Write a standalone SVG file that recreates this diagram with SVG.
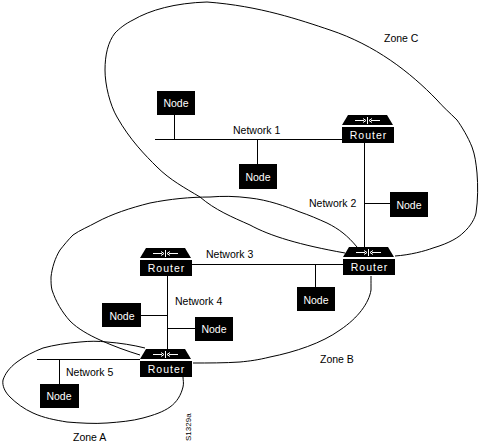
<svg xmlns="http://www.w3.org/2000/svg" width="484" height="444" viewBox="0 0 484 444">
<style>
text{font-family:"Liberation Sans",Arial,sans-serif;font-size:10.5px;fill:#000}
.w{fill:#fff}
.n{text-anchor:middle;font-size:10.5px}
.r{text-anchor:middle;font-size:10.5px;letter-spacing:1px}
.b{fill:#000}
.l{fill:none;stroke:#000;stroke-width:1}
.a{fill:none;stroke:#fff;stroke-width:1}
</style>
<defs>
<g id="rt">
<path class="b" d="M6 0H45L51 10H0Z"/>
<rect class="b" x="0" y="12" width="52" height="16"/>
<path class="a" d="M13 5.500H22M21 3.500L24 5.500L21 7.500M38 5.500H29M30 3.500L27 5.500L30 7.500M25.500 2V9"/>
<text class="w r" x="26.500" y="24">Router</text>
</g>
</defs>
<g id="zones">
<path class="l" d="M395 256C410 255 425 251 433 248C450 243 459 237 463 233C471 226 475 218 476 213C478 200 478 185 477 173C476 163 475 155 472 147C468 137 462 127 457 120C450 113 442 106 437 100C410 72 375 45 330 30C300 20 260 6 207 2C175 3 150 10 133 20C125 24 120 28 115 33C108 42 105 55 105 70C105 85 110 105 117 117C130 140 145 155 157 167C170 180 185 188 200 197C215 210 232 217 250 225C270 236 300 245 345 253"/>
<path class="l" d="M357 247C352 241 348 237 343 233C338 229 333 226 327 223C318 219 309 215 300 212C285 206 268 200 250 198C235 196 222 196 210 197C190 197 170 199 150 203C130 208 112 214 97 222C88 227 80 230 73 235C68 240 64 245 60 250C55 258 52 268 51 277C51 282 51 286 52 290C56 302 62 312 70 321C78 329 89 335 100 340C113 346 127 351 140 355"/>
<path class="l" d="M371 276C371 282 371 286 371 290C369 303 358 318 340 330C322 343 295 352 270 357C258 360 250 361 240 362C225 363 208 363 193 363"/>
<path class="l" d="M145 348C133 345 120 343 107 342C98 341 90 341 80 342C67 343 54 345 43 348C33 352 25 356 17 362C9 368 5 374 3 380C2 386 5 392 10 397C16 403 24 409 33 413C44 418 55 420 67 422C80 423 94 424 107 423C120 422 132 421 143 418C154 415 163 412 170 407C177 402 181 395 183 387C184 383 183 380 183 377"/>
</g>
<g id="connectors">
<path class="l" d="M155 139.500H342M174.500 115V139M257.500 139V164M364.500 143V248M365 203.500H390M192 264.500H343M315.500 264V287M167.500 276V350M141 315.500H167M167 328.500H195M37 359.500H140M59.500 359V384"/>
</g>
<g id="router-c"><use href="#rt" x="342" y="115"/></g>
<g id="router-bc"><use href="#rt" x="343" y="247"/></g>
<g id="router-b"><use href="#rt" x="140" y="248"/></g>
<g id="router-ab"><use href="#rt" x="140" y="349"/></g>
<g id="node1"><rect class="b" x="157" y="91" width="38" height="24"/><text class="w n" x="176" y="107">Node</text></g>
<g id="node2"><rect class="b" x="239" y="164" width="38" height="25"/><text class="w n" x="258" y="181">Node</text></g>
<g id="node3"><rect class="b" x="390" y="192" width="38" height="25"/><text class="w n" x="409" y="209">Node</text></g>
<g id="node4"><rect class="b" x="297" y="287" width="38" height="24"/><text class="w n" x="316" y="304">Node</text></g>
<g id="node5"><rect class="b" x="102" y="303" width="39" height="24"/><text class="w n" x="122" y="320">Node</text></g>
<g id="node6"><rect class="b" x="195" y="317" width="38" height="24"/><text class="w n" x="214" y="333">Node</text></g>
<g id="node7"><rect class="b" x="40" y="384" width="39" height="24"/><text class="w n" x="59" y="400">Node</text></g>
<g id="labels">
<text x="384" y="42">Zone C</text>
<text x="233" y="134">Network 1</text>
<text x="309" y="207">Network 2</text>
<text x="206" y="258">Network 3</text>
<text x="175" y="305">Network 4</text>
<text x="66" y="376">Network 5</text>
<text x="320" y="363">Zone B</text>
<text x="73" y="441">Zone A</text>
<text transform="translate(191 441) rotate(-90)" style="font-size:8px">S1329a</text>
</g>
</svg>
